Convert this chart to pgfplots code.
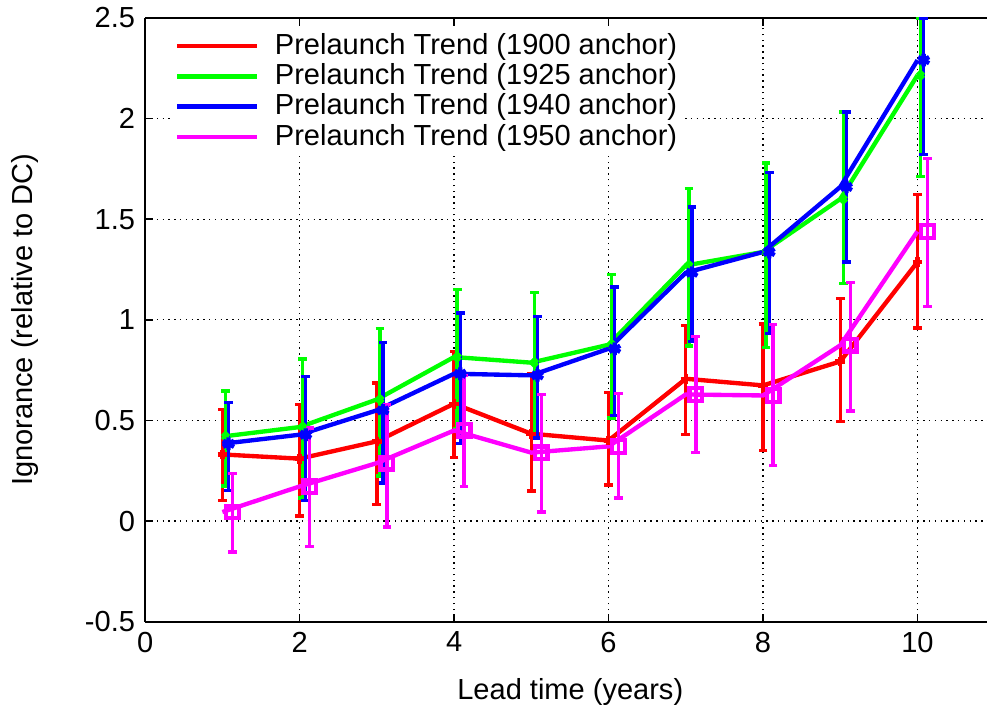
\documentclass[12pt,border=0pt]{standalone}
\usepackage{fontspec}
\setmainfont{Liberation Sans}
\usepackage{pgfplots}
\pgfplotsset{compat=1.18}
\usepackage{pgfplotstable}

\definecolor{gpred}{RGB}{255,0,0}
\definecolor{gpgreen}{RGB}{0,255,0}
\definecolor{gpblue}{RGB}{0,0,255}
\definecolor{gpmag}{RGB}{255,0,255}

% x = lead time, xe = shifted position of the error bar, ep/em = upper/lower error
\pgfplotstableread{
x  xe    y      ep     em
1  1.00  0.331  0.224  0.229
2  2.00  0.310  0.270  0.285
3  3.00  0.396  0.290  0.315
4  4.00  0.583  0.260  0.268
5  5.00  0.434  0.298  0.285
6  6.00  0.400  0.238  0.220
7  7.00  0.707  0.265  0.278
8  8.00  0.674  0.306  0.323
9  9.00  0.793  0.312  0.298
10 10.00 1.287  0.335  0.328
}\redtab
\pgfplotstableread{
x  xe    y      ep     em
1  1.04  0.420  0.226  0.246
2  2.04  0.467  0.338  0.353
3  3.04  0.604  0.352  0.380
4  4.04  0.815  0.335  0.356
5  5.04  0.787  0.348  0.353
6  6.04  0.876  0.350  0.364
7  7.04  1.270  0.382  0.400
8  8.04  1.337  0.442  0.476
9  9.04  1.600  0.433  0.421
10 10.04 2.215  0.285  0.502
}\greentab
\pgfplotstableread{
x  xe    y      ep     em
1  1.08  0.384  0.205  0.232
2  2.08  0.429  0.290  0.327
3  3.08  0.550  0.338  0.360
4  4.08  0.732  0.302  0.348
5  5.08  0.724  0.293  0.311
6  6.08  0.856  0.307  0.331
7  7.08  1.234  0.326  0.341
8  8.08  1.337  0.394  0.406
9  9.08  1.660  0.373  0.373
10 10.08 2.290  0.210  0.468
}\bluetab
\pgfplotstableread{
x  xe    y      ep     em
1  1.13  0.045  0.190  0.199
2  2.13  0.172  0.290  0.298
3  3.13  0.288  0.292  0.318
4  4.13  0.450  0.274  0.278
5  5.13  0.340  0.288  0.295
6  6.13  0.371  0.262  0.257
7  7.13  0.629  0.288  0.289
8  8.13  0.624  0.352  0.348
9  9.13  0.873  0.311  0.326
10 10.13 1.439  0.361  0.372
}\magtab

\pgfplotsset{
  ebars/.style={only marks, line width=1.4pt, forget plot,
    mark options={line width=1.8pt},
    error bars/y dir=both, error bars/y explicit,
    error bars/error bar style={line width=1.4pt},
    error bars/error mark options={rotate=90, line width=1.4pt, mark size=1.8pt}},
}

\begin{document}
\begin{tikzpicture}
\begin{axis}[
  scale only axis, width=348pt, height=249.6pt,
  xmin=0, xmax=10.9, ymin=-0.5, ymax=2.5,
  xtick={0,2,...,10}, ytick={-0.5,0,...,2.5},
  axis x line=box, axis y line=left,
  axis line style={-, line width=0.8pt},
  y axis line style={-},
  tick align=inside, major tick length=3.3pt,
  tick style={black, line width=0.6pt},
  grid=major,
  major grid style={black, line width=0.5pt, dash pattern=on 0.6pt off 1.8pt},
  /pgf/number format/assume math mode=true,
  xlabel={Lead time (years)},
  ylabel={Ignorance (relative to DC)},
  xlabel style={at={(axis description cs:0.505,0)}, anchor=center, yshift=-29pt},
  ylabel style={at={(axis description cs:-0.143,0.5)}, anchor=center},
  legend style={at={(rel axis cs:0.032,0.985)}, anchor=north west, draw=none,
    fill=white, inner sep=1pt, row sep=-1pt, nodes={inner sep=1.5pt}},
  legend cell align=left,
  legend image code/.code={\draw[#1] (0pt,0pt) -- (33pt,0pt); \path (38pt,0pt);},
]
\addplot[gpred, line width=1.8pt] table[x=x, y=y] {\redtab};
\addlegendentry{Prelaunch Trend (1900 anchor)}
\addplot[gpred, mark=+, mark size=2pt, ebars]
  table[x=xe, y=y, y error plus=ep, y error minus=em] {\redtab};
\addplot[gpgreen, line width=1.8pt] table[x=x, y=y] {\greentab};
\addlegendentry{Prelaunch Trend (1925 anchor)}
\addplot[gpgreen, mark=x, mark size=1.8pt, ebars]
  table[x=xe, y=y, y error plus=ep, y error minus=em] {\greentab};
\addplot[gpblue, line width=1.8pt] table[x=x, y=y] {\bluetab};
\addlegendentry{Prelaunch Trend (1940 anchor)}
\addplot[gpblue, mark=asterisk, mark size=2.6pt, ebars]
  table[x=xe, y=y, y error plus=ep, y error minus=em] {\bluetab};
\addplot[gpmag, line width=1.8pt] table[x=x, y=y] {\magtab};
\addlegendentry{Prelaunch Trend (1950 anchor)}
\addplot[gpmag, mark=square, mark size=2.6pt, ebars]
  table[x=xe, y=y, y error plus=ep, y error minus=em] {\magtab};
\end{axis}
\pgfresetboundingbox
\path[use as bounding box] ([xshift=-60pt,yshift=-39pt]current axis.south west)
  rectangle ([yshift=7.4pt]current axis.north east);
\end{tikzpicture}
\end{document}
